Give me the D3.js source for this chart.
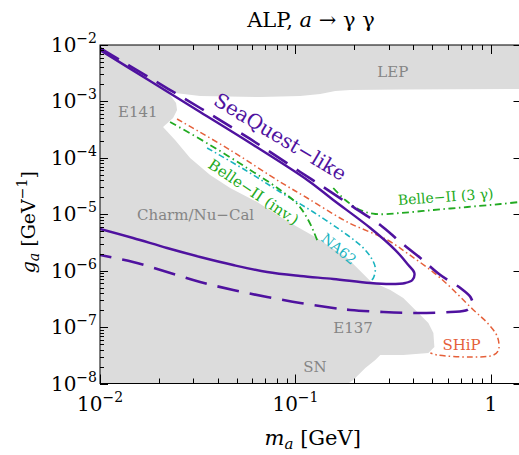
<!DOCTYPE html>
<html><head><meta charset="utf-8">
<script src="https://cdn.jsdelivr.net/npm/d3@7"></script>
<style>body{margin:0;background:#fff}svg{display:block}</style>
</head><body>
<script>
// ---- axis ticks ----
const xMajor = [0.01, 0.1, 1];
const xMajorLabels = [["10","−2"],["10","−1"],["1",""]];
const yMajor = [1e-8, 1e-7, 1e-6, 1e-5, 1e-4, 1e-3, 1e-2];
const yMajorLabels = [["10","−8"],["10","−7"],["10","−6"],["10","−5"],["10","−4"],["10","−3"],["10","−2"]];

// ---- excluded region (grey) ----
const greyM = [0.01,1.4,1.4,0.3439,0.1908,0.1598,0.1339,0.1058,0.06598,0.03253,0.02421,0.02152,0.02283,0.0245,0.02479,0.02365,0.02102,0.02421,0.02891,0.0366,0.04633,0.06369,0.08862,0.1262,0.1841,0.2415,0.3057,0.3562,0.4203,0.4786,0.5077,0.5137,0.4786,0.3562,0.2716,0.2561,0.2277,0.1976,0.1863,0.01];
const greyG = [1e-2,1e-2,1.66e-3,1.626e-3,1.594e-3,1.53e-3,1.353e-3,1.247e-3,1.197e-3,1.247e-3,1.41e-3,1.594e-3,1.299e-3,9.37e-4,7.04e-4,5.08e-4,3.52e-4,2.07e-4,9.93e-5,4.96e-5,2.92e-5,1.649e-5,7.91e-6,3.95e-6,1.678e-6,6.56e-7,4.54e-7,3.28e-7,1.85e-7,1.181e-7,7.86e-8,4.44e-8,3.47e-8,3.2e-8,3.2e-8,2.61e-8,1.883e-8,1.153e-8,1e-8,1e-8];

// ---- SeaQuest-like (solid) ----
const seaSolidM = [0.01,0.01804,0.03253,0.05865,0.1149,0.1561,0.2415,0.3243,0.378,0.4058,0.3963,0.3648,0.3057,0.2415,0.1561,0.1058,0.07166,0.048,0.03253,0.02203,0.01476,0.01];
const seaSolidG = [8.16e-3,2.3e-3,6.49e-4,1.83e-4,4.05e-5,1.789e-5,5.71e-6,2.32e-6,1.26e-6,9.09e-7,6.83e-7,6.05e-7,5.8e-7,6.05e-7,7.12e-7,8.04e-7,9.47e-7,1.26e-6,1.748e-6,2.52e-6,3.79e-6,5.48e-6];
// ---- SeaQuest-like (dashed) ----
const seaDashM = [0.01,0.01804,0.03253,0.05865,0.1058,0.1339,0.1908,0.2716,0.3439,0.4355,0.5512,0.6979,0.7855,0.8043,0.7581,0.6203,0.4203,0.2814,0.1908,0.1561,0.1058,0.07166,0.048,0.03253,0.02203,0.01476,0.01];
const seaDashG = [8.85e-3,2.6e-3,7.64e-4,2.16e-4,5.61e-5,3.3e-5,1.459e-5,6.45e-6,3.22e-6,1.678e-6,8.37e-7,4.93e-7,3.41e-7,2.56e-7,2.01e-7,1.85e-7,1.78e-7,1.85e-7,2.01e-7,2.18e-7,2.67e-7,3.41e-7,4.54e-7,6.3e-7,9.47e-7,1.424e-6,1.895e-6];
// ---- SHiP ----
const shipM = [0.02479,0.04633,0.08356,0.1149,0.1841,0.2951,0.378,0.5512,0.8138,0.9598,1.08,1.093,1.03,0.7855,0.5322,0.49];
const shipG = [4.88e-4,1.377e-4,3.73e-5,1.94e-5,7.29e-6,3.5e-6,1.974e-6,7.41e-7,2.01e-7,1.181e-7,6.67e-8,3.92e-8,3.2e-8,2.95e-8,3.2e-8,3.47e-8];
// ---- NA62 ----
const na62M = [0.03532,0.0553,0.08356,0.1233,0.1841,0.2197,0.2443,0.2561,0.2502,0.2387];
const na62G = [1.494e-4,6.09e-5,2.48e-5,1.096e-5,4.29e-6,2.63e-6,1.678e-6,1.115e-6,7.41e-7,6.3e-7];
// ---- Belle-II (inv.) ----
const belleInvM = [0.02283,0.0366,0.05865,0.08356,0.1033,0.1162,0.1248,0.1308];
const belleInvG = [4.32e-4,1.688e-4,6.09e-5,2.69e-5,1.459e-5,7.91e-6,4.65e-6,3.09e-6];
// ---- Belle-II (3 gamma) ----
const belle3gM = [0.1561,0.1798,0.2146,0.2561,0.3439,0.5077,0.7581,1.119,1.4];
const belle3gG = [2.92e-5,1.789e-5,1.19e-5,1.01e-5,1.052e-5,1.19e-5,1.344e-5,1.519e-5,1.649e-5];

const W = 519, H = 455;
const L = 100, R = 519.5, T = 45, B = 383.5;
const FONT = "'DejaVu Serif', serif";
const C = {purple:"#4f129f", orange:"#e5603a", cyan:"#19b3bf", green:"#22aa22", grey:"#dcdcdc", greyText:"#858585"};

const svg = d3.select("body").append("svg").attr("width", W).attr("height", H);
const x = d3.scaleLog().domain([0.01, 1.4]).range([L, R]);
const y = d3.scaleLog().domain([1e-8, 1e-2]).range([B, T]);

svg.append("defs").append("clipPath").attr("id","clip")
  .append("rect").attr("x",L).attr("y",T).attr("width",R-L).attr("height",B-T);
const plot = svg.append("g").attr("clip-path","url(#clip)");

const zip = (ms, gs) => ms.map((m,i)=>[m, gs[i]]);
const lineOpen = d3.line().x(d=>x(d[0])).y(d=>y(d[1])).curve(d3.curveCatmullRom.alpha(0.5));
const lineLin = d3.line().x(d=>x(d[0])).y(d=>y(d[1])).curve(d3.curveLinearClosed);

plot.append("path").attr("d", lineLin(zip(greyM, greyG))).attr("fill", C.grey).attr("stroke","none");

function curve(ms, gs, color, width, dash){
  plot.append("path").attr("d", lineOpen(zip(ms, gs)))
    .attr("fill","none").attr("stroke",color).attr("stroke-width",width)
    .attr("stroke-dasharray", dash || null).attr("stroke-linejoin","round");
}
curve(shipM, shipG, C.orange, 1.5, "6,3,1.5,3");
curve(na62M, na62G, C.cyan, 1.6, "6,3,1.5,3");
curve(belleInvM, belleInvG, C.green, 1.8, "7,3.5,1.5,3.5");
curve(belle3gM, belle3gG, C.green, 1.8, "7,3.5,1.5,3.5");
curve(seaDashM, seaDashG, C.purple, 2.6, "22,11");
curve(seaSolidM, seaSolidG, C.purple, 2.4, null);

// ---- region / curve labels ----
function label(txt, m, g, color, size, rot){
  const t = plot.append("text").attr("x", x(m)).attr("y", y(g))
    .attr("font-family", FONT).attr("font-size", size).attr("fill", color).text(txt);
  if (rot) t.attr("transform", `rotate(${rot},${x(m)},${y(g)})`);
}
label("LEP", 0.2623, 2.71e-3, C.greyText, 15);
label("E141", 0.01237, 5.29e-4, C.greyText, 15);
label("Charm/Nu−Cal", 0.01547, 7.91e-6, C.greyText, 15);
label("E137", 0.1561, 7.86e-8, C.greyText, 15);
label("SN", 0.1096, 1.6e-8, C.greyText, 15);
label("SHiP", 0.5645, 3.92e-8, C.orange, 15);
label("SeaQuest−like", 0.03748, 9.0e-4, C.purple, 20, 31);
label("Belle−II (inv.)", 0.03532, 6.88e-5, C.green, 15, 34);
label("Belle−II (3 γ)", 0.3359, 1.459e-5, C.green, 14, -4);
label("NA62", 0.1339, 3.5e-6, C.cyan, 14, 39);

// ---- frame & ticks ----
const ax = svg.append("g").attr("stroke","#000").attr("stroke-width",1);
ax.append("rect").attr("x",L).attr("y",T).attr("width",R-L).attr("height",B-T).attr("fill","none");
const isMajor = v => Math.abs(Math.log10(v) - Math.round(Math.log10(v))) < 1e-6;
x.ticks().forEach(v=>{
  const len = isMajor(v) ? 9 : 5, px = Math.round(x(v))+0.5;
  ax.append("line").attr("x1",px).attr("x2",px).attr("y1",B).attr("y2",B-len);
  ax.append("line").attr("x1",px).attr("x2",px).attr("y1",T).attr("y2",T+len);
});
y.ticks().forEach(v=>{
  const len = isMajor(v) ? 8 : 4, py = Math.round(y(v))+0.5;
  ax.append("line").attr("x1",L).attr("x2",L+len).attr("y1",py).attr("y2",py);
  if (isMajor(v)) ax.append("line").attr("x1",R).attr("x2",R-6).attr("y1",py).attr("y2",py);
});

// tick labels
function sup(sel, base, ex){
  sel.append("tspan").text(base);
  if (ex) sel.append("tspan").attr("font-size",14).attr("dy",-9).text(ex);
}
xMajor.forEach((v,i)=>{
  const t = svg.append("text").attr("x", x(v)).attr("y", B+27).attr("text-anchor","middle")
    .attr("font-family",FONT).attr("font-size",20).attr("fill","#000");
  sup(t, xMajorLabels[i][0], xMajorLabels[i][1]);
});
yMajor.forEach((v,i)=>{
  const t = svg.append("text").attr("x", L-3).attr("y", y(v)+7).attr("text-anchor","end")
    .attr("font-family",FONT).attr("font-size",20).attr("fill","#000");
  sup(t, yMajorLabels[i][0], yMajorLabels[i][1]);
});

// title
const title = svg.append("text").attr("x", 311).attr("y", 27).attr("text-anchor","middle")
  .attr("font-family",FONT).attr("font-size",21).attr("fill","#000");
title.append("tspan").text("ALP, ");
title.append("tspan").attr("font-style","italic").text("a");
title.append("tspan").text(" → γ γ");

// x label
const xl = svg.append("text").attr("x", (L+R)/2 + 3).attr("y", 445).attr("text-anchor","middle")
  .attr("font-family",FONT).attr("font-size",21).attr("fill","#000");
xl.append("tspan").attr("font-style","italic").text("m");
xl.append("tspan").attr("font-style","italic").attr("font-size",15).attr("dy",4).text("a");
xl.append("tspan").attr("dy",-4).text(" [GeV]");

// y label
const yl = svg.append("text").attr("transform",`translate(35,${(T+B)/2 + 8}) rotate(-90)`)
  .attr("text-anchor","middle").attr("font-family",FONT).attr("font-size",19).attr("fill","#000");
yl.append("tspan").attr("font-style","italic").text("g");
yl.append("tspan").attr("font-style","italic").attr("font-size",14).attr("dy",4).text("a");
yl.append("tspan").attr("dy",-4).text("  [GeV");
yl.append("tspan").attr("font-size",14).attr("dy",-8).text("−1");
yl.append("tspan").attr("dy",8).text("]");
</script>
</body></html>
